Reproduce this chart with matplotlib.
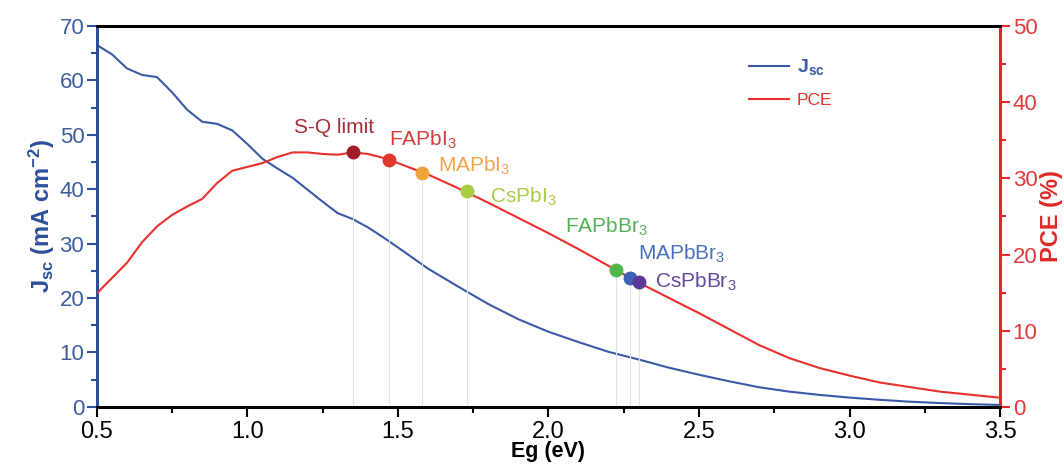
import matplotlib
matplotlib.use('Agg')
import matplotlib.pyplot as plt
from matplotlib.ticker import MultipleLocator

plt.rcParams['font.family'] = ['Liberation Sans', 'DejaVu Sans']
plt.rcParams['mathtext.fontset'] = 'custom'
plt.rcParams['mathtext.rm'] = 'Liberation Sans'
plt.rcParams['mathtext.bf'] = 'Liberation Sans:bold'
plt.rcParams['mathtext.it'] = 'Liberation Sans:italic'

# Data
eg = [0.50, 0.55, 0.60, 0.65, 0.70, 0.75, 0.80, 0.85, 0.90, 0.95, 1.00, 1.05,
      1.10, 1.15, 1.20, 1.25, 1.30, 1.35, 1.40, 1.45, 1.50, 1.60, 1.70, 1.80,
      1.90, 2.00, 2.10, 2.20, 2.30, 2.40, 2.50, 2.60, 2.70, 2.80, 2.90, 3.00,
      3.10, 3.20, 3.30, 3.40, 3.50]
jsc = [66.5, 64.8, 62.2, 61.0, 60.6, 57.8, 54.6, 52.4, 52.0, 50.8, 48.3, 45.6,
       43.8, 42.1, 39.9, 37.7, 35.6, 34.5, 33.0, 31.2, 29.3, 25.4, 22.1, 18.9,
       16.1, 13.8, 11.9, 10.1, 8.7, 7.2, 5.9, 4.7, 3.6, 2.8, 2.2, 1.7,
       1.3, 0.95, 0.7, 0.5, 0.35]
pce = [14.9, 16.9, 18.9, 21.6, 23.7, 25.2, 26.3, 27.3, 29.4, 31.0, 31.5, 32.0,
       32.8, 33.4, 33.4, 33.2, 33.1, 33.4, 33.2, 32.7, 32.0, 30.5, 28.7, 26.8,
       24.8, 22.8, 20.7, 18.5, 16.3, 14.3, 12.3, 10.2, 8.1, 6.4, 5.1, 4.1,
       3.2, 2.6, 2.0, 1.6, 1.2]

materials = ['S-Q limit', 'FAPbI$_3$', 'MAPbI$_3$', 'CsPbI$_3$',
             'FAPbBr$_3$', 'MAPbBr$_3$', 'CsPbBr$_3$']
mat_eg = [1.352, 1.47, 1.58, 1.73, 2.225, 2.272, 2.30]
mat_pce = [33.4, 32.4, 30.7, 28.3, 18.0, 16.9, 16.4]

dot_colors = ['#a31c2a', '#e0382c', '#f2a33a', '#a9cc45', '#52b54a', '#3a63b5', '#5b3a97']
text_colors = ['#a3303c', '#d83c3a', '#f0a648', '#a9cc45', '#55b055', '#4a6fbf', '#66489c']
# label offsets in pixels (dx, dy, ha)
offsets = [(-19, 25, 'center'), (0, 20, 'left'), (16, 7, 'left'), (23, -6, 'left'),
           (-51, 43, 'left'), (8, 24, 'left'), (16, 0, 'left')]

blue = '#3a5aa8'
red = '#e8302c'
axblue = '#2c52a0'
axred = '#e82a2a'

fig = plt.figure(figsize=(10.64, 4.72), dpi=100)
ax = fig.add_axes([0.091, 0.138, 0.849, 0.807])
ax2 = ax.twinx()

l1, = ax.plot(eg, jsc, color=blue, lw=1.5, label=r'$\mathbf{J_{sc}}$')
l2, = ax2.plot(eg, pce, color=red, lw=1.5, label='PCE', zorder=3)

ax2.vlines(mat_eg, 0, mat_pce, color='#e2e2e2', lw=0.8, zorder=1)
for x, y, c in zip(mat_eg, mat_pce, dot_colors):
    ax2.plot(x, y, 'o', color=c, ms=9, zorder=4)
for name, x, y, c, (dx, dy, ha) in zip(materials, mat_eg, mat_pce, text_colors, offsets):
    ax2.annotate(name, (x, y), xytext=(dx, dy), textcoords='offset pixels',
                 ha=ha, va='center', color=c, fontsize=15)

ax.set_xlim(0.5, 3.5)
ax.set_ylim(0, 70)
ax2.set_ylim(0, 50)
ax.xaxis.set_major_locator(MultipleLocator(0.5))
ax.xaxis.set_minor_locator(MultipleLocator(0.25))
ax.yaxis.set_major_locator(MultipleLocator(10))
ax.yaxis.set_minor_locator(MultipleLocator(5))
ax2.yaxis.set_major_locator(MultipleLocator(10))
ax2.yaxis.set_minor_locator(MultipleLocator(5))

for a in (ax, ax2):
    for s in a.spines.values():
        s.set_linewidth(2)
ax2.spines['left'].set_color(axblue)
ax2.spines['right'].set_color(axred)
ax2.spines['top'].set_color('black')
ax2.spines['bottom'].set_color('black')

ax.tick_params(axis='x', which='major', direction='out', length=7, width=1.5,
               labelsize=17, colors='black', pad=3)
ax.tick_params(axis='x', which='minor', direction='out', length=4, width=1.5)
ax.tick_params(axis='y', which='major', direction='out', length=7, width=1.5,
               labelsize=16, colors=axblue, labelcolor='#3d5d9e', pad=2)
ax.tick_params(axis='y', which='minor', direction='out', length=4, width=1.5, colors=axblue)
ax2.tick_params(axis='y', which='major', direction='out', length=7, width=1.5,
                labelsize=16, colors=axred, labelcolor='#e03a3a', pad=2)
ax2.tick_params(axis='y', which='minor', direction='out', length=4, width=1.5, colors=axred)

ax.set_xlabel('Eg (eV)', fontsize=15.5, fontweight='bold', labelpad=-1)
ax.set_ylabel(r'$\mathbf{J_{sc}}$ (mA cm$^{\mathbf{-2}}$)', fontsize=17,
              fontweight='bold', color='#2c4f9a', labelpad=2)
ax2.set_ylabel('PCE (%)', fontsize=17, fontweight='bold', color='#e02828', labelpad=2)

leg = ax.legend(handles=[l1, l2], loc='upper left', bbox_to_anchor=(0.705, 0.96),
                frameon=False, fontsize=12.5, handlelength=2.3, handletextpad=0.45,
                labelspacing=0.9, labelcolor='linecolor')
leg.get_texts()[0].set_fontsize(14)

plt.savefig('out.png', dpi=100)
plt.close()
